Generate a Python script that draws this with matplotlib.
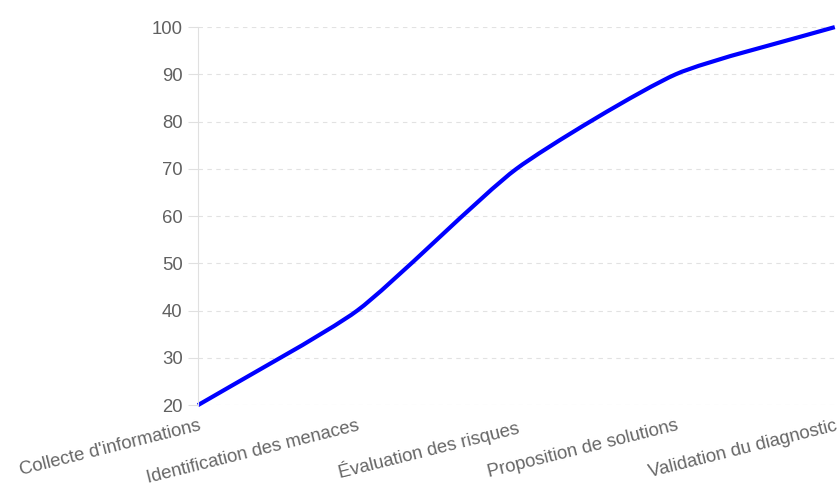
import numpy as np
import matplotlib.pyplot as plt
from matplotlib.path import Path
from matplotlib.patches import PathPatch

etapes = ["Collecte d'informations", "Identification des menaces",
          "Évaluation des risques", "Proposition de solutions",
          "Validation du diagnostic"]
progression = [20, 40, 70, 90, 100]
y_ticks = [20, 30, 40, 50, 60, 70, 80, 90, 100]


def spline_path(ax, xs, ys, tension=0.2):
    # courbe à la Chart.js : points de contrôle calculés en pixels
    pts = ax.transData.transform(np.column_stack([xs, ys]))
    n = len(pts)
    verts = [pts[0]]
    codes = [Path.MOVETO]
    ctrl = []
    for i in range(n):
        prev = pts[max(i - 1, 0)]
        cur = pts[i]
        nxt = pts[min(i + 1, n - 1)]
        d01 = np.hypot(*(cur - prev))
        d12 = np.hypot(*(nxt - cur))
        tot = d01 + d12
        s01 = d01 / tot if tot else 0
        s12 = d12 / tot if tot else 0
        c_prev = cur - tension * s01 * (nxt - prev)
        c_next = cur + tension * s12 * (nxt - prev)
        ctrl.append((c_prev, c_next))
    for i in range(1, n):
        verts += [ctrl[i - 1][1], ctrl[i][0], pts[i]]
        codes += [Path.CURVE4] * 3
    inv = ax.transData.inverted()
    return Path(inv.transform(np.array(verts)), codes)


fig = plt.figure(figsize=(8.39, 4.84), dpi=100)
ax = fig.add_axes([0.236, 0.163, 0.759, 0.781])
x = np.arange(len(etapes))
ax.set_xlim(0, len(etapes) - 1)
ax.set_ylim(20, 100)

path = spline_path(ax, x, progression)
ax.add_patch(PathPatch(path, facecolor='none', edgecolor='#0000ff',
                       lw=3, capstyle='butt', joinstyle='round', clip_on=False))

ax.set_yticks(y_ticks)
ax.set_xticks(x)
ax.set_xticklabels(etapes, rotation=14, ha='right', rotation_mode='anchor')
ax.tick_params(axis='y', color='#e0e0e0', length=7, width=0.8, pad=4,
               labelcolor='#606060')
ax.tick_params(axis='x', length=0, pad=9, labelcolor='#666666')
for lbl in ax.get_xticklabels() + ax.get_yticklabels():
    lbl.set_fontfamily('Liberation Sans')
    lbl.set_fontsize(13.3)

ax.grid(axis='y', color='#e2e2e2', linestyle=(0, (4, 4)), linewidth=0.8)
ax.set_axisbelow(True)
for s in ['top', 'right', 'bottom']:
    ax.spines[s].set_visible(False)
ax.spines['left'].set_color('#e0e0e0')
ax.spines['left'].set_linewidth(0.8)

fig.savefig('out.png', dpi=100)
